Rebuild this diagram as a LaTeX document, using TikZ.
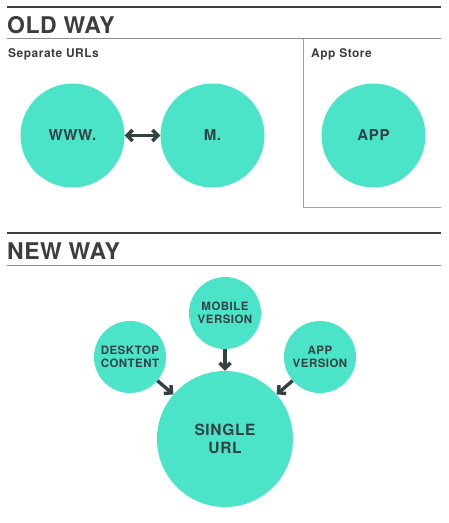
\documentclass[tikz,border=0pt]{standalone}
\usepackage{fontspec}
\setmainfont{TeX Gyre Heros}
\usetikzlibrary{arrows.meta}
\definecolor{mint}{RGB}{76,228,200}
\definecolor{ink}{RGB}{52,66,68}
\definecolor{head}{RGB}{58,62,66}
\definecolor{rule}{RGB}{140,140,140}

\begin{document}
\begin{tikzpicture}[x=1pt,y=-1pt,
	bubble/.style={circle, fill=mint, text=ink, font=\bfseries, align=center, inner sep=0pt},
	title/.style={anchor=base west, inner sep=0pt, text=head, font=\fontsize{23}{25}\selectfont\bfseries\addfontfeature{LetterSpace=2}},
	sub/.style={anchor=base west, inner sep=0pt, text=head, font=\fontsize{12}{14}\selectfont\bfseries\addfontfeature{LetterSpace=4}},
	arw/.style={draw=ink, line width=3.4pt, -{Straight Barb[length=5.5pt,width=11pt]}}]
	\useasboundingbox (0,0) rectangle (448,523);

	\draw[head, line width=2pt] (7,7) -- (441,7);
	\draw[rule, line width=0.9pt] (7,38.5) -- (441,38.5);
	\draw[rule!80, line width=0.9pt] (303.5,38.5) -- (303.5,207) -- (441,207);
	\draw[head, line width=2pt] (7,232.5) -- (441,232.5);
	\draw[rule, line width=0.9pt] (7,265) -- (441,265);

	\node[title] (oldway) at (7,33.3) {OLD WAY};
	\node[sub] (sepurls) at (8,57.3) {Separate URLs};
	\node[sub] (appstore) at (311,57.3) {App Store};
	\node[title] (newway) at (7,259.8) {NEW WAY};

	\node[bubble, minimum size=104pt, font=\fontsize{15}{17}\selectfont\bfseries\addfontfeature{LetterSpace=4}] (www) at (72.5,135.5) {WWW.};
	\node[bubble, minimum size=104pt, font=\fontsize{15}{17}\selectfont\bfseries\addfontfeature{LetterSpace=4}] (m) at (212.5,135.5) {M.};
	\node[bubble, minimum size=104pt, font=\fontsize{15}{17}\selectfont\bfseries\addfontfeature{LetterSpace=4}] (app) at (373.5,135.5) {APP};
	\draw[arw, {Straight Barb[length=5.5pt,width=11pt]}-{Straight Barb[length=5.5pt,width=11pt]}] (www) -- (m);

	\node[bubble, minimum size=72pt, font=\fontsize{11.5}{12.5}\selectfont\bfseries\addfontfeature{LetterSpace=4}] (mobile) at (225,313) {MOBILE\\VERSION};
	\node[bubble, minimum size=72pt, font=\fontsize{11.5}{12.5}\selectfont\bfseries\addfontfeature{LetterSpace=4}] (desktop) at (130,357) {DESKTOP\\CONTENT};
	\node[bubble, minimum size=72pt, font=\fontsize{11.5}{12.5}\selectfont\bfseries\addfontfeature{LetterSpace=4}] (appver) at (320,357) {APP\\VERSION};
	\node[bubble, minimum size=136pt, font=\fontsize{15.5}{17.5}\selectfont\bfseries\addfontfeature{LetterSpace=4}] (single) at (225,439) {SINGLE\\URL};

	\draw[arw] (mobile) -- (single);
	\draw[arw] (desktop) -- (single);
	\draw[arw] (appver) -- (single);
\end{tikzpicture}
\end{document}
